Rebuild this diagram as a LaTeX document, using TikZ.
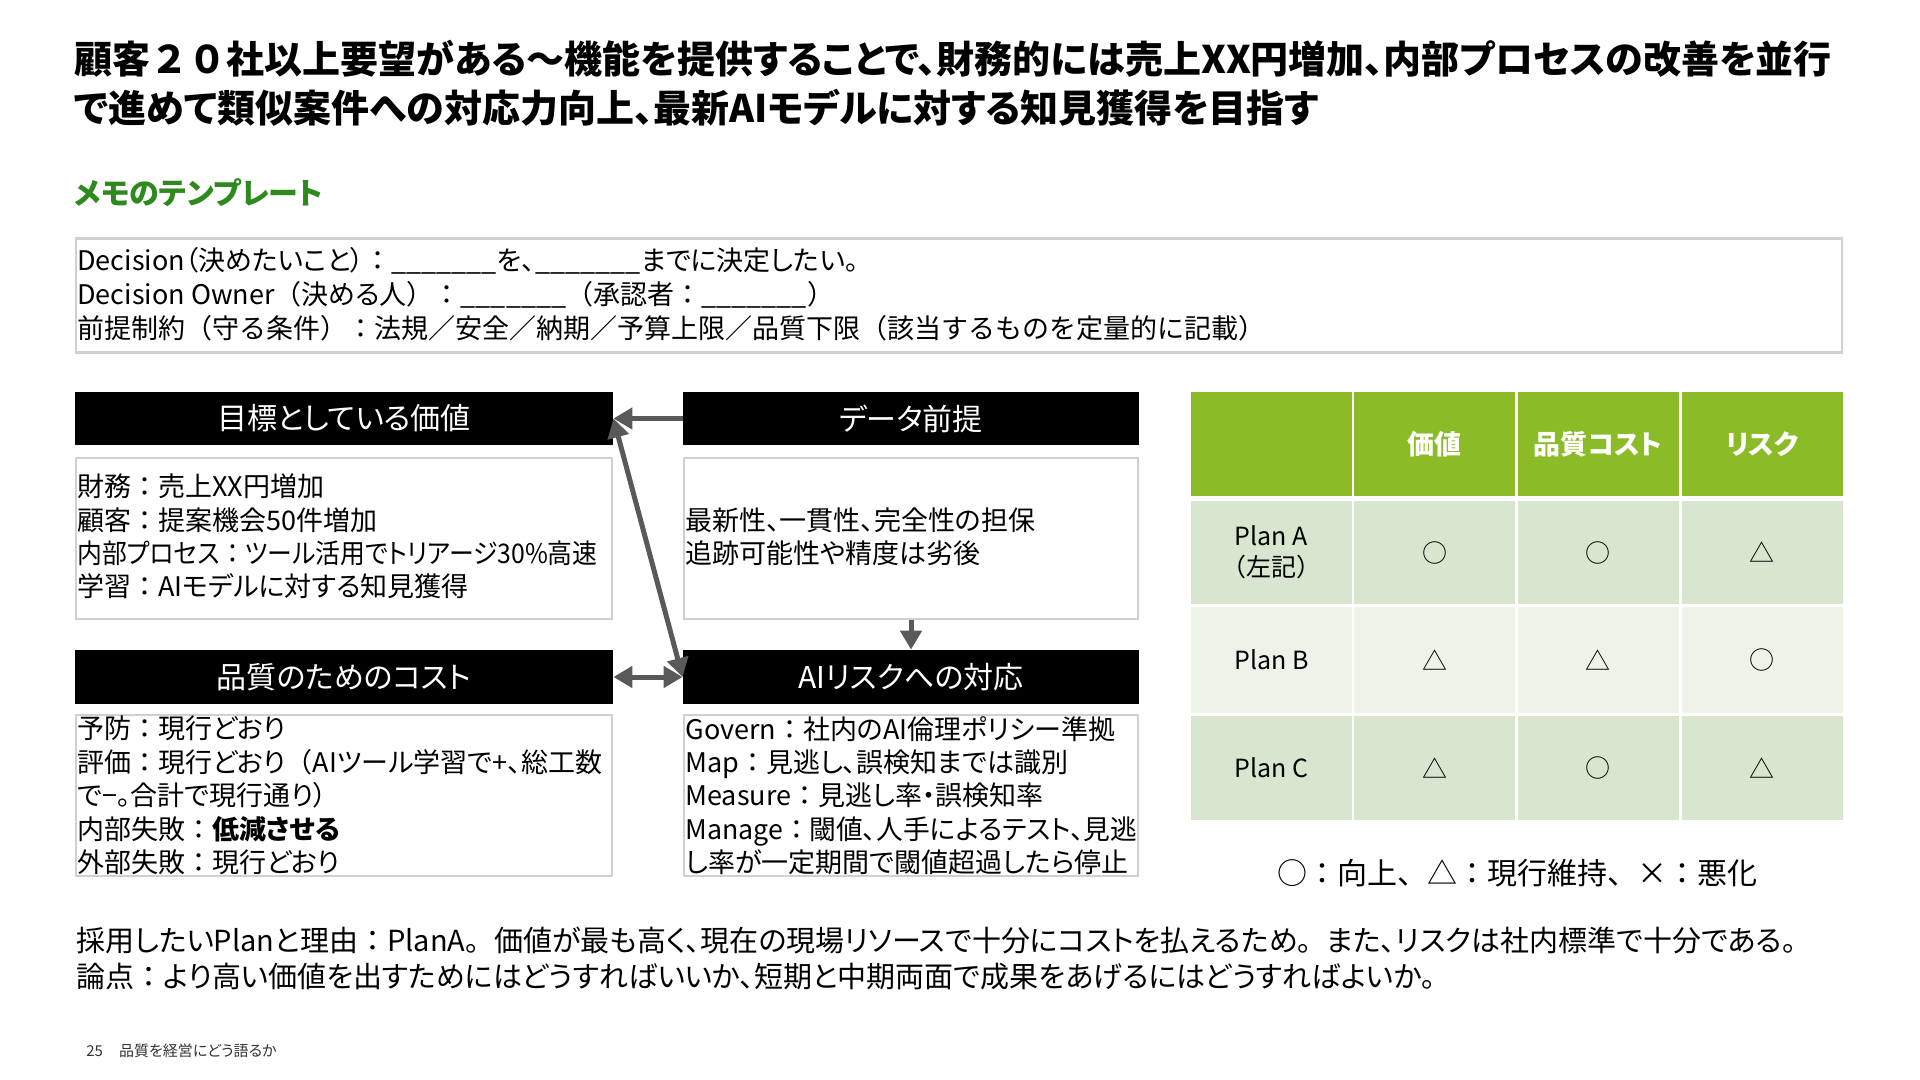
\documentclass[tikz,border=0pt]{standalone}
\usepackage{fontspec}
\setmainfont{Noto Sans CJK JP}[RawFeature=+palt]
\newfontfamily\jpfull{Noto Sans CJK JP}
\usetikzlibrary{arrows.meta}
\definecolor{arrgray}{HTML}{595959}
\definecolor{boxgray}{HTML}{D0D0D0}
\definecolor{tgreen}{HTML}{8CBB28}
\definecolor{rowA}{HTML}{D9E6CF}
\definecolor{rowB}{HTML}{EDF3E9}
\definecolor{subgreen}{HTML}{2F8A1E}
\newcommand\fw[1]{{\jpfull #1}}
\newcommand\fc{{\jpfull ：}}
\newcommand\blanks{\_\_\_\_\_\_\_}
\begin{document}
\begin{tikzpicture}[x=0.5pt,y=-0.5pt,
  txt/.style={inner sep=0pt, anchor=west, align=left},
  body/.style={txt, font=\fontsize{13.5}{16.7}\selectfont},
  hdrbox/.style={fill=black, text=white, inner sep=0pt, font=\fontsize{15}{18}\selectfont},
  wbox/.style={draw=boxgray, line width=1pt, inner sep=0pt, minimum height=80.5pt},
  arr/.style={draw=arrgray, line width=2.5pt, arrows={-Triangle[length=9.5pt,width=10.5pt]}},
  darr/.style={draw=arrgray, line width=2.5pt, arrows={Triangle[length=9.5pt,width=10.5pt]-Triangle[length=9.5pt,width=10.5pt]}},
  cell/.style={minimum width=80.5pt, inner sep=0pt, align=center, font=\fontsize{12.5}{15.5}\selectfont},
  thead/.style={cell, fill=tgreen, text=white, minimum height=52pt, font=\fontsize{13.5}{16}\selectfont\bfseries}
]
\fill[white] (0,0) rectangle (1920,1080);
\useasboundingbox (0,0) rectangle (1920,1080);

% title
\node[txt, font=\fontsize{19}{23}\selectfont\bfseries] (title1) at (74,59) {顧客\fw{２０}社以上要望がある～機能を提供することで、財務的には売上XX円増加、内部プロセスの改善を並行};
\node[txt, font=\fontsize{19}{23}\selectfont\bfseries] (title2) at (74,108) {で進めて類似案件への対応力向上、最新AIモデルに対する知見獲得を目指す};

\node[txt, text=subgreen, font=\fontsize{15}{18}\selectfont\bfseries] (sub) at (74,193) {メモのテンプレート};

% memo box
\node[draw=boxgray, line width=1.25pt, minimum width=883pt, minimum height=57pt, inner sep=0pt] (memo) at (959,295.5) {};
\node[body] (m1) at (77,261) {Decision（決めたいこと）\fc\blanks を、\blanks までに決定したい。};
\node[body] (m2) at (77,295) {Decision Owner\fw{（}決める人\fw{）}\fc\blanks\fw{（}承認者\fc\blanks\fw{）}};
\node[txt, font=\jpfull\fontsize{13.5}{16.7}\selectfont] (m3) at (77,328) {前提制約（守る条件）：法規／安全／納期／予算上限／品質下限（該当するものを定量的に記載）};

% headers
\node[hdrbox, minimum width=269pt, minimum height=26.5pt] (h1) at (344,418.5) {目標としている価値};
\node[hdrbox, minimum width=228pt, minimum height=26.5pt] (h2) at (911,418.5) {データ前提};
\node[hdrbox, minimum width=269pt, minimum height=27pt] (h3) at (344,677) {品質のためのコスト};
\node[hdrbox, minimum width=228pt, minimum height=27pt] (h4) at (911,677) {AIリスクへの対応};

% boxes
\node[wbox, minimum width=268pt] (b1) at (344,538.5) {};
\node[wbox, minimum width=227pt] (b2) at (911,538.5) {};
\node[wbox, minimum width=268pt] (b3) at (344,795.5) {};
\node[wbox, minimum width=227pt] (b4) at (911,795.5) {};

\node[body] (t1) at (77,536.5) {財務\fc 売上XX円増加\\顧客\fc 提案機会50件増加\\\scalebox{0.92}[1]{内部プロセス\fc ツール活用でトリアージ30\%高速}\\学習\fc AIモデルに対する知見獲得};
\node[body] (t2) at (685,536.5) {最新性、一貫性、完全性の担保\\追跡可能性や精度は劣後};
\node[body] (t3) at (77,795.5) {予防\fc 現行どおり\\評価\fc 現行どおり\fw{（}AIツール学習で+、総工数\\で−。合計で現行通り）\\内部失敗\fc\textbf{低減させる}\\外部失敗\fc 現行どおり};
\node[body] (t4) at (685,795.5) {Govern\fc 社内のAI倫理ポリシー準拠\\Map\fc 見逃し、誤検知までは識別\\Measure\fc 見逃し率・誤検知率\\\scalebox{0.99}[1]{Manage\fc 閾値、人手によるテスト、見逃}\\し率が一定期間で閾値超過したら停止};

% connectors
\draw[arr] (h2.west) -- (h1.east);
\draw[darr] (h1.east) -- (h4.west);
\draw[arr] (b2.south) -- (h4.north);
\draw[darr] (h3.east) -- (h4.west);

% table
\node[thead] (c00) at (1271.5,444) {};
\node[thead] (c01) at (1434.5,444) {価値};
\node[thead] (c02) at (1598,444) {品質コスト};
\node[thead] (c03) at (1762,444) {リスク};

\node[cell, fill=rowA, minimum height=51.5pt] (c10) at (1271.5,552.5) {Plan A\\\fw{（}左記\fw{）}};
\node[cell, fill=rowA, minimum height=51.5pt] (c11) at (1434.5,552.5) {○};
\node[cell, fill=rowA, minimum height=51.5pt] (c12) at (1598,552.5) {○};
\node[cell, fill=rowA, minimum height=51.5pt] (c13) at (1762,552.5) {△};

\node[cell, fill=rowB, minimum height=53pt] (c20) at (1271.5,660) {Plan B};
\node[cell, fill=rowB, minimum height=53pt] (c21) at (1434.5,660) {△};
\node[cell, fill=rowB, minimum height=53pt] (c22) at (1598,660) {△};
\node[cell, fill=rowB, minimum height=53pt] (c23) at (1762,660) {○};

\node[cell, fill=rowA, minimum height=52pt] (c30) at (1271.5,768) {Plan C};
\node[cell, fill=rowA, minimum height=52pt] (c31) at (1434.5,768) {△};
\node[cell, fill=rowA, minimum height=52pt] (c32) at (1598,768) {○};
\node[cell, fill=rowA, minimum height=52pt] (c33) at (1762,768) {△};

\node[inner sep=0pt, font=\jpfull\fontsize{15}{18}\selectfont] (legend) at (1517,873) {○：向上、△：現行維持、{\rmfamily ×}：悪化};

% conclusion
\node[txt, font=\fontsize{14.5}{18}\selectfont] (con1) at (76,940) {採用したいPlanと理由\fc PlanA\fw{。}価値が最も高く、現在の現場リソースで十分にコストを払えるため\fw{。}また、リスクは社内標準で十分である\fw{。}};
\node[txt, font=\fontsize{14.5}{18}\selectfont] (con2) at (76,977) {論点\fc より高い価値を出すためにはどうすればいいか、短期と中期両面で成果をあげるにはどうすればよいか。};

\node[txt, text=black!80, font=\fontsize{7.5}{9}\selectfont] (foot) at (86,1051) {25\hspace{8pt}品質を経営にどう語るか};
\end{tikzpicture}
\end{document}
